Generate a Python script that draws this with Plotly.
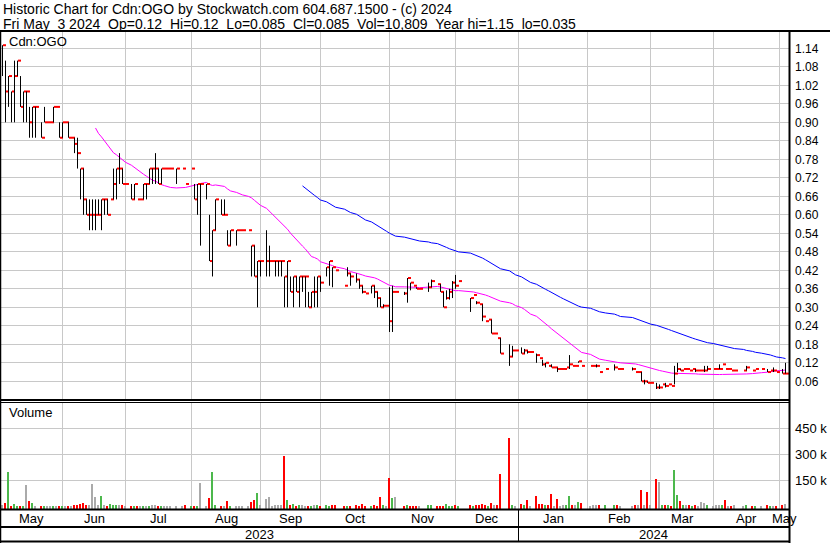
import pandas as pd
import numpy as np
import plotly.graph_objects as go

# ---------------- data (one entry per weekday, 2023-05-04 .. 2024-05-03) ----------------
dates = pd.bdate_range("2023-05-04", "2024-05-03")
N = None

high = [
    # May 2023
    1.15, 1.10, 1.05, 1.00, 1.10, 1.10, 1.05, 1.00, 1.00, 0.95, 0.95, 0.95, N, 0.90, 0.95, 0.90, 0.90, 0.95, 0.95, 0.90,
    # Jun
    .90, .90, .90, .85, .85, .85, .75, .75, .65, .65, .65, .65, .65, .65, .65, .65, .65, .75, .75, .80, .75, .70,
    # Jul
    N, .70, .70, .65, .65, .70, .70, .75, .75, .80, .75, .75, .75, .75, .75, N, .75, N, .75, .70, N,
    # Aug
    .75, .70, .70, .70, N, .70, .60, .55, .65, N, .65, .65, .55, .55, N, .55, .55, .55, N, .55, .50, .50, .45,
    # Sep
    .45, N, .55, .50, .45, .45, .45, .45, .40, .45, .40, .40, .40, .40, .40, .40, .35, .35, .40, .40, .40,
    # Oct
    N, .43, .45, .43, .42, N, N, .37, .43, .41, N, .41, .39, .37, .345, N, .37, .37, .35, .33, .31, .305,
    # Nov
    .365, .37, .35, N, N, .35, .395, .38, .37, .365, .36, N, N, .38, .39, N, .375, .375, .35, .355, .36, .385,
    # Dec
    .405, .385, N, N, N, .33, .34, .32, .31, .31, .255, .26, .26, .215, .20, .20, N, N, .18, .175, .16,
    # Jan 2024
    N, .17, .165, .16, .155, N, .15, .135, .13, .12, .11, .115, .105, .105, .10, .10, .105, .145, .11, .11, .125, .11, N,
    # Feb
    N, .11, .11, .115, .09, N, .10, N, N, .115, .10, .10, N, N, N, .105, .09, .09, .09, .065, .06,
    # Mar
    .055, N, .055, .05, .05, .055, .05, .045, .11, .12, .10, .10, .10, .095, .10, .10, .095, .095, .11, .11, N,
    # Apr
    .10, .10, .115, .115, .10, .10, .095, .095, N, N, .095, .11, N, .095, .10, N, .10, N, .10, .095, .105, .09,
    # May
    N, .10, .12,
]
low = [
    1.05, 0.90, 0.95, 0.90, 0.90, 1.05, 0.95, 0.90, 0.90, 0.85, 0.85, 0.85, N, 0.85, 0.90, 0.90, 0.90, 0.90, 0.95, 0.85,
    .85, .90, .85, .85, .80, .75, .65, .60, .60, .55, .55, .55, .60, .55, .60, .60, .65, .65, .65, .70, .70, .70,
    N, .65, .65, .65, .65, .65, .65, .70, .70, .70, .70, .70, .75, .75, .75, N, .70, N, .75, .70, N,
    .75, .65, .60, .50, N, .65, .45, .40, .55, N, .60, .60, .50, .50, N, .50, .55, .55, N, .55, .40, .40, .30,
    .40, N, .40, .40, .45, .40, .40, .40, .30, .30, .35, .30, .35, .30, .35, .30, .30, .30, .30, .30, .35,
    N, .40, .37, .365, .42, N, N, .37, .40, .37, N, .38, .36, .345, .345, N, .345, .33, .30, .30, .30, .305,
    .22, .22, .35, N, N, .34, .315, .355, .37, .36, .36, N, N, .35, .365, N, .375, .35, .30, .325, .325, .33,
    .36, .385, N, N, N, .285, .34, .31, .31, .255, .255, .26, .215, .215, .20, .15, N, N, .11, .14, .16,
    N, .15, .15, .15, .155, N, .12, .135, .11, .105, .11, .105, .105, .09, .10, .10, .105, .10, .11, .11, .12, .11, N,
    N, .11, .11, .105, .09, N, .10, N, N, .095, .10, .10, N, N, N, .095, .09, .09, .06, .05, .055,
    .055, N, .035, .035, .05, .04, .05, .045, .05, .09, .095, .10, .10, .095, .10, .09, .095, .095, .09, .095, N,
    .10, .10, .10, .115, .10, .10, .095, .095, N, N, .095, .095, N, .095, .10, N, .10, N, .09, .095, .09, .09,
    N, .085, .085,
]
close = [
    1.15, 1.00, 1.05, 1.00, 1.05, 1.10, 0.95, 1.00, 1.00, 0.90, 0.95, 0.95, N, 0.85, 0.90, 0.90, 0.90, 0.95, 0.95, 0.85,
    .90, .90, .85, .85, .83, .80, .75, .65, .60, .60, .60, .60, .60, .65, .65, .60, .65, .70, .75, .75, .70, .70,
    N, .65, .70, .65, .65, .70, .70, .75, .75, .75, .70, .75, .75, .75, .75, N, .75, N, .75, .70, N,
    .75, .65, .70, .70, N, .70, .45, .55, .65, N, .60, .60, .50, .55, N, .55, .55, .55, N, .55, .50, .40, .45,
    .45, N, .45, .45, .45, .45, .45, .45, .40, .45, .35, .40, .35, .40, .40, .40, .30, .35, .35, .40, .38,
    N, .43, .45, .43, .42, N, N, .37, .41, .40, N, .39, .37, .35, .345, N, .37, .35, .33, .30, .305, .305,
    .255, .35, .35, N, N, .345, .395, .38, .37, .36, .36, N, N, .365, .385, N, .375, .35, .30, .33, .35, .38,
    .37, .385, N, N, N, .33, .34, .315, .31, .27, .255, .26, .215, .215, .20, .15, N, N, .14, .16, .16,
    N, .15, .16, .155, .155, N, .145, .135, .115, .12, .11, .105, .105, .10, .10, .10, .105, .115, .11, .11, .125, .11, N,
    N, .11, .11, .11, .09, N, .10, N, N, .105, .10, .10, N, N, N, .10, .09, .09, .06, .06, .055,
    .055, N, .04, .04, .05, .045, .05, .045, .085, .10, .095, .10, .10, .095, .10, .095, .095, .095, .095, .10, N,
    .10, .10, .10, .115, .10, .10, .095, .095, N, N, .095, .105, N, .095, .10, N, .10, N, .09, .095, .095, .09,
    N, .085, .085,
]
volume_k = [
    5, 17, 200, 2, 14, 2, 2, 2, 123, 29, 17, 3, 0, 2, 2, 2, 2, 2, 2, 3,
    3, 2, 3, 3, 4, 8, 10, 17, 4, 4, 127, 52, 5, 61, 7, 3, 12, 4, 5, 5, 4, 2,
    0, 3, 3, 3, 3, 3, 3, 3, 7, 5, 3, 3, 3, 3, 3, 0, 2, 0, 2, 5, 0,
    2, 3, 2, 134, 0, 2, 46, 196, 6, 0, 3, 3, 30, 3, 0, 3, 3, 3, 0, 3, 21, 36, 75,
    5, 0, 44, 52, 3, 5, 7, 9, 290, 36, 9, 14, 2, 5, 5, 2, 2, 2, 8, 7, 2,
    0, 5, 2, 5, 5, 0, 0, 3, 3, 3, 0, 5, 2, 14, 2, 0, 2, 5, 2, 51, 8, 2,
    163, 46, 52, 0, 0, 2, 5, 2, 3, 3, 3, 0, 0, 8, 8, 0, 3, 2, 3, 12, 3, 2,
    7, 2, 0, 0, 0, 7.5, 2, 5, 4, 12, 4, 2, 19, 4, 8, 186, 0, 0, 394, 8, 2,
    0, 12, 5, 35, 2, 0, 58, 12, 10, 5, 7, 69, 2, 42, 2, 9, 7, 58, 4, 4, 25, 19, 0,
    0, 2, 4, 6, 5, 0, 5, 0, 0, 7, 4, 2, 0, 0, 0, 2, 5, 5, 92, 7, 81,
    5, 0, 156, 139, 7, 4, 9, 2, 209, 63, 29, 9, 4, 4, 2, 9, 2, 25, 19, 9, 0,
    2, 8, 8, 9, 35, 2, 2, 4, 0, 0, 1, 5, 0, 2, 2, 0, 2, 0, 5, 1, 3, 2,
    0, 5, 10.809,
]
price_ticks = [0.06, 0.12, 0.18, 0.24, 0.30, 0.36, 0.42, 0.48, 0.54, 0.60,
               0.66, 0.72, 0.78, 0.84, 0.90, 0.96, 1.02, 1.08, 1.14]
vol_ticks = [150000, 300000, 450000]
vol_tick_text = ["150 k", "300 k", "450 k"]
ma_short, ma_long = 31, 91

title1 = "Historic Chart for Cdn:OGO by Stockwatch.com 604.687.1500 - (c) 2024"
title2 = "Fri May  3 2024  Op=0.12  Hi=0.12  Lo=0.085  Cl=0.085  Vol=10,809  Year hi=1.15  lo=0.035"
symbol = "Cdn:OGO"

# ---------------- geometry (pixels) ----------------
W, H = 830, 543
PL, PR, PT, PB = 0, 789, 32, 509
PRICE_BOTTOM, VOL_TOP = 399, 402
FONT = "Liberation Sans, Arial, sans-serif"


def xp(px):
    return (px - PL) / (PR - PL)


def yp(py):
    return (PB - py) / (PB - PT)


n = len(dates)
xi = np.arange(n)
x_left = -2.5 / 3.0
x_right = x_left + (PR - PL) / 3.0

# price panel scale: 0.06 per 18.5 px, 1.14 at y=48.3
p_per_px = 0.06 / 18.5
p_top = 1.14 + (48.3 - PT) * p_per_px
p_bot = 1.14 - (PRICE_BOTTOM - 48.3) * p_per_px
# volume panel scale: 150k per 25.8 px, zero at y=506.1
v_per_px = 150000 / 25.8
v_bot = -(PB - 506.1) * v_per_px
v_top = (506.1 - VOL_TOP) * v_per_px

# ---------------- traces ----------------
hl_x, hl_y, ck_x, ck_y = [], [], [], []
for i in range(n):
    if close[i] is None:
        continue
    if high[i] != low[i]:
        hl_x += [i, i, None]
        hl_y += [low[i], high[i], None]
    ck_x += [i + 0.17, i + 1.17, None]
    ck_y += [close[i], close[i], None]

s = pd.Series([np.nan if c is None else c for c in close], index=xi, dtype=float)
valid = s.dropna()
ma1 = valid.rolling(ma_short).mean().dropna()
ma2 = valid.rolling(ma_long).mean().dropna()

vol_colors = []
prev = None
for c in close:
    if c is None:
        vol_colors.append("#aaaaaa")
        continue
    if prev is None or abs(c - prev) < 1e-9:
        vol_colors.append("#aaaaaa")
    elif c > prev:
        vol_colors.append("#4cb84c")
    else:
        vol_colors.append("#ff0000")
    prev = c
vol = np.array(volume_k, dtype=float) * 1000.0
vx = [i - 0.33 for i in range(n) if close[i] is not None]
vy = [vol[i] - v_bot for i in range(n) if close[i] is not None]
vc = [vol_colors[i] for i in range(n) if close[i] is not None]

fig = go.Figure()
fig.add_trace(go.Scatter(x=ma2.index, y=ma2.values, mode="lines",
                         line=dict(color="#0000ff", width=1), xaxis="x", yaxis="y", hoverinfo="skip"))
fig.add_trace(go.Scatter(x=ma1.index, y=ma1.values, mode="lines",
                         line=dict(color="#ff00ff", width=1), xaxis="x", yaxis="y", hoverinfo="skip"))
fig.add_trace(go.Scatter(x=ck_x, y=ck_y, mode="lines",
                         line=dict(color="#ff0000", width=2), xaxis="x", yaxis="y", hoverinfo="skip"))
fig.add_trace(go.Scatter(x=hl_x, y=hl_y, mode="lines",
                         line=dict(color="#000000", width=1), xaxis="x", yaxis="y", hoverinfo="skip"))
fig.add_trace(go.Bar(x=vx, y=vy, base=v_bot, width=0.67, marker=dict(color=vc, line=dict(width=0)),
                     xaxis="x2", yaxis="y2", hoverinfo="skip"))

# month boundaries (gridlines) derived from the trading calendar
grid_x = []
month_starts = pd.date_range(dates[0] + pd.offsets.MonthBegin(1), dates[-1], freq="MS")
for m in month_starts:
    pos = int(dates.searchsorted(m))
    if m.weekday() >= 5:
        pos -= 1
    grid_x.append(pos)
bounds = [x_left] + grid_x + [x_right]
month_names = [dates[0].strftime("%b")] + [m.strftime("%b") for m in month_starts]

annotations = []
for k, name in enumerate(month_names):
    cx = (bounds[k] + bounds[k + 1]) / 2
    annotations.append(dict(x=(cx - x_left) / (x_right - x_left), y=yp(518.5), xref="paper", yref="paper",
                            text=name, showarrow=False, xanchor="center", yanchor="middle",
                            font=dict(family=FONT, size=13, color="black")))
year_split = grid_x[[m.month for m in month_starts].index(1)]
year_bounds = [x_left, year_split, x_right]
for k, yr in enumerate([str(dates[0].year), str(dates[-1].year)]):
    cx = (year_bounds[k] + year_bounds[k + 1]) / 2
    annotations.append(dict(x=(cx - x_left) / (x_right - x_left), y=yp(534.5), xref="paper", yref="paper",
                            text=yr, showarrow=False, xanchor="center", yanchor="middle",
                            font=dict(family=FONT, size=13, color="black")))

nb = "\u00a0"
annotations += [
    dict(x=xp(2), y=yp(0.5), xref="paper", yref="paper", text=title1.replace(" ", nb), showarrow=False,
         xanchor="left", yanchor="top", font=dict(family=FONT, size=14, color="black"), borderpad=0),
    dict(x=xp(2), y=yp(14.5), xref="paper", yref="paper", text=title2.replace(" ", nb), showarrow=False,
         xanchor="left", yanchor="top", font=dict(family=FONT, size=14, color="black"), borderpad=0),
    dict(x=xp(8), y=yp(33), xref="paper", yref="paper", text=symbol, showarrow=False,
         xanchor="left", yanchor="top", font=dict(family=FONT, size=13, color="black"), borderpad=0),
    dict(x=xp(8), y=yp(404), xref="paper", yref="paper", text="Volume", showarrow=False,
         xanchor="left", yanchor="top", font=dict(family=FONT, size=13, color="black"), borderpad=0),
]

ysplit = (year_split - x_left) / (x_right - x_left)


def hline(py, x0px, x1px, w):
    return dict(type="line", xref="paper", yref="paper", x0=xp(x0px), x1=xp(x1px), y0=yp(py), y1=yp(py),
                line=dict(color="black", width=w))


def vline(px, y0px, y1px, w):
    return dict(type="line", xref="paper", yref="paper", x0=xp(px), x1=xp(px), y0=yp(y0px), y1=yp(y1px),
                line=dict(color="black", width=w))


shapes = [
    hline(31, 0, W, 2),
    hline(400, 0, PR, 2),
    hline(402.5, 0, PR, 1),
    hline(509.5, 0, PR, 2),
    hline(527, 0, PR, 2),
    hline(541.5, 0, PR, 2),
    vline(0.5, 31, 543, 1.5),
    vline(789.5, 31, 543, 2),
    dict(type="line", xref="paper", yref="paper", x0=ysplit, x1=ysplit, y0=yp(510), y1=yp(541),
         line=dict(color="black", width=1)),
]

grid_col = "#c8c8c8"
fig.update_layout(
    width=W, height=H,
    margin=dict(l=PL, r=W - PR, t=PT, b=H - PB, pad=0),
    paper_bgcolor="white", plot_bgcolor="white",
    showlegend=False, bargap=0,
    font=dict(family=FONT, size=12, color="black"),
    xaxis=dict(domain=[0, 1], range=[x_left, x_right], tickvals=grid_x, showticklabels=False,
               showgrid=True, gridcolor=grid_col, gridwidth=1, zeroline=False, showline=False, ticks=""),
    xaxis2=dict(domain=[0, 1], range=[x_left, x_right], tickvals=grid_x, showticklabels=False,
                showgrid=True, gridcolor=grid_col, gridwidth=1, zeroline=False, showline=False, ticks="",
                anchor="y2", matches="x"),
    yaxis=dict(domain=[yp(PRICE_BOTTOM), 1], range=[p_bot, p_top], side="right", tickvals=price_ticks,
               tickformat=".2f", showgrid=True, gridcolor=grid_col, zeroline=False, showline=False,
               ticks="", ticklabelstandoff=5, tickfont=dict(family=FONT, size=12, color="black")),
    yaxis2=dict(domain=[0, yp(VOL_TOP)], range=[v_bot, v_top], side="right", tickvals=vol_ticks,
                ticktext=vol_tick_text, showgrid=True, gridcolor=grid_col, zeroline=False, showline=False,
                ticks="", ticklabelstandoff=5, tickfont=dict(family=FONT, size=13, color="black"), anchor="x2"),
    annotations=annotations,
    shapes=shapes,
)

fig.write_html("out.html", config={"displayModeBar": False},
               post_script="document.body.style.margin='0px';document.body.style.overflow='hidden';")
